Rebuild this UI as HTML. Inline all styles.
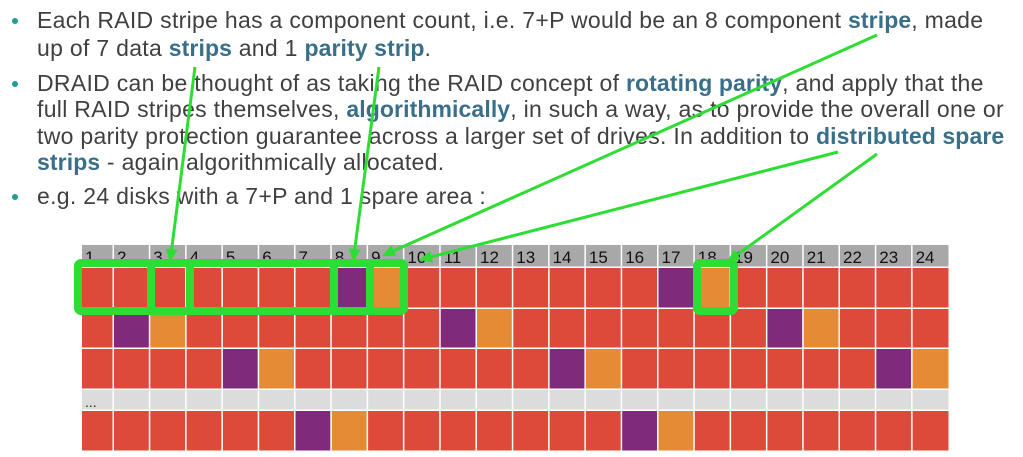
<!DOCTYPE html>
<html><head><meta charset="utf-8"><style>
body{margin:0;width:1023px;height:457px;background:#fff;overflow:hidden;position:relative;font-family:"Liberation Sans",sans-serif;}
.l{position:absolute;left:37px;font-size:23px;letter-spacing:0.3px;color:#404040;white-space:nowrap;line-height:24px;}
.b{color:#3a6f8a;font-weight:bold;letter-spacing:0.1px;}
.dot{position:absolute;left:12px;width:6px;height:6px;border-radius:50%;background:#1e9d96;}
svg{position:absolute;left:0;top:0;}
</style></head><body>
<div class="dot" style="top:18px"></div>
<div class="l" style="top:8px">Each RAID stripe has a component count, i.e. 7+P would be an 8 component <span class="b">stripe</span>, made</div>
<div class="l" style="top:36px">up of 7 data <span class="b">strips</span> and 1 <span class="b">parity strip</span>.</div>
<div class="dot" style="top:81px"></div>
<div class="l" style="top:71px">DRAID can be thought of as taking the RAID concept of <span class="b">rotating parity</span>, and apply that the</div>
<div class="l" style="top:97px">full RAID stripes themselves, <span class="b">algorithmically</span>, in such a way, as to provide the overall one or</div>
<div class="l" style="top:124px">two parity protection guarantee across a larger set of drives. In addition to <span class="b">distributed spare</span></div>
<div class="l" style="top:150px"><span class="b">strips</span> - again algorithmically allocated.</div>
<div class="dot" style="top:194px"></div>
<div class="l" style="top:184px">e.g. 24 disks with a 7+P and 1 spare area :</div>
<svg width="1023" height="457" id="s"></svg>
<script>
var s=document.getElementById('s'),h='';
var xs=[82];for(var i=1;i<=24;i++)xs.push(114+(i-1)*36.3);xs[24]=950;
var rows=[[268,309],[309,349],[349,390],[390,411],[411,452]];
var P={0:{8:'p',9:'o',17:'p',18:'o'},1:{2:'p',3:'o',11:'p',12:'o',20:'p',21:'o'},2:{5:'p',6:'o',14:'p',15:'o',23:'p',24:'o'},4:{7:'p',8:'o',16:'p',17:'o'}};
var C={r:'#dd4a3a',p:'#7f2a7a',o:'#e58a35'};
for(var c=1;c<=24;c++){var x=xs[c-1],w=xs[c]-x;
h+='<rect x="'+x+'" y="245" width="'+(w-1.5)+'" height="21.5" fill="#a8a8a8"/>';
h+='<text x="'+(x+3)+'" y="263" font-size="17" fill="#111" font-family="Liberation Sans">'+c+'</text>';
for(var r=0;r<5;r++){var y=rows[r][0],hh=rows[r][1]-y;var col=r==3?'#dcdcdc':C[(P[r]&&P[r][c])||'r'];
h+='<rect x="'+x+'" y="'+y+'" width="'+(w-1.5)+'" height="'+(hh-1.5)+'" fill="'+col+'"/>';}}
h+='<text x="85" y="407" font-size="14" fill="#222">...</text>';
var g='#2edd33';
h+='<rect x="78" y="263" width="326" height="48" rx="3" fill="none" stroke="'+g+'" stroke-width="8"/>';
[151,190,334,370].forEach(function(x){h+='<rect x="'+(x-4)+'" y="263" width="8" height="48" fill="'+g+'"/>';});
h+='<rect x="697" y="263" width="37" height="48" rx="3" fill="none" stroke="'+g+'" stroke-width="8"/>';
function ar(x1,y1,x2,y2){var a=Math.atan2(y2-y1,x2-x1),L=13,W=6;
h+='<line x1="'+x1+'" y1="'+y1+'" x2="'+(x2-Math.cos(a)*8)+'" y2="'+(y2-Math.sin(a)*8)+'" stroke="'+g+'" stroke-width="3"/>';
var bx=x2-Math.cos(a)*L,by=y2-Math.sin(a)*L;
h+='<polygon points="'+x2+','+y2+' '+(bx-Math.sin(a)*W)+','+(by+Math.cos(a)*W)+' '+(bx+Math.sin(a)*W)+','+(by-Math.cos(a)*W)+'" fill="'+g+'"/>';}
ar(195,67,170,262);ar(379,67,353,262);ar(877,35,382,256);ar(838,152,419,260);ar(877,154,727,262);
s.innerHTML=h;
</script>
</body></html>
